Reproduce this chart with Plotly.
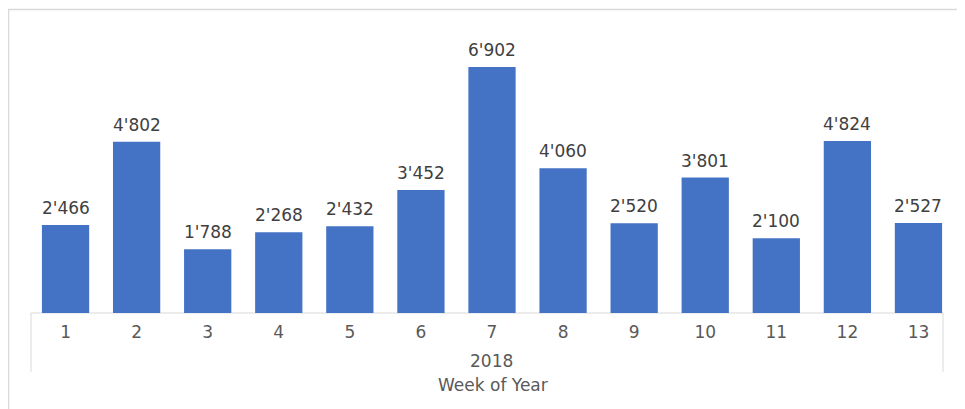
import plotly.graph_objects as go

weeks = ["1", "2", "3", "4", "5", "6", "7", "8", "9", "10", "11", "12", "13"]
values = [2466, 4802, 1788, 2268, 2432, 3452, 6902, 4060, 2520, 3801, 2100, 4824, 2527]
year_label = "2018"
axis_title = "Week of Year"

labels = [f"{v:,}".replace(",", "'") for v in values]

W, H = 965, 409
OFF = 8  # page body offset
L, T = 30 - OFF, 30 - OFF
pw, ph = 924, 283
R = W - L - pw
B = H - T - ph

def px_x(x):
    return (x - OFF - L) / pw

def px_y(y):
    return (T + ph - (y - OFF)) / ph

fig = go.Figure(go.Bar(
    x=weeks, y=values,
    marker=dict(color="#4472C4", line=dict(width=0)),
    width=0.665, hoverinfo="skip",
))

annotations = [
    dict(x=i, y=v, text=t, xref="x", yref="y", showarrow=False,
         yanchor="bottom", yshift=5,
         font=dict(family="DejaVu Sans", size=17, color="#404040"))
    for i, (v, t) in enumerate(zip(values, labels))
]
annotations += [
    dict(text=year_label, xref="paper", yref="paper", x=px_x(491), y=px_y(361),
         showarrow=False, yanchor="middle", font=dict(size=17, color="#595959")),
    dict(text=axis_title, xref="paper", yref="paper", x=px_x(493), y=px_y(385),
         showarrow=False, yanchor="middle", font=dict(size=17, color="#595959")),
]

line_style = dict(color="#D9D9D9", width=1)
fig.update_layout(
    width=W, height=H, margin=dict(l=L, r=R, t=T, b=B),
    paper_bgcolor="white", plot_bgcolor="white",
    showlegend=False,
    font=dict(family="DejaVu Sans", size=17, color="#595959"),
    xaxis=dict(type="category", range=[-0.5, len(weeks) - 0.5],
               showline=False, showgrid=False, zeroline=False,
               ticks="outside", ticklen=4, tickcolor="rgba(0,0,0,0)",
               tickfont=dict(size=17, color="#595959"), fixedrange=True),
    yaxis=dict(range=[0, 7940], visible=False, showgrid=False, zeroline=False),
    shapes=[
        dict(type="rect", xref="paper", yref="paper",
             x0=px_x(8.5), x1=px_x(1000), y0=px_y(440), y1=px_y(9.5),
             line=dict(color="#D9D9D9", width=1.5), fillcolor="rgba(0,0,0,0)", layer="below"),
        dict(type="line", xref="paper", yref="paper",
             x0=px_x(31), x1=px_x(943), y0=0, y1=0, line=line_style, layer="below"),
        dict(type="line", xref="paper", yref="paper",
             x0=px_x(31), x1=px_x(31), y0=0, y1=px_y(372), line=line_style),
        dict(type="line", xref="paper", yref="paper",
             x0=px_x(943), x1=px_x(943), y0=0, y1=px_y(372), line=line_style),
    ],
    annotations=annotations,
)

fig.write_html("out.html")
